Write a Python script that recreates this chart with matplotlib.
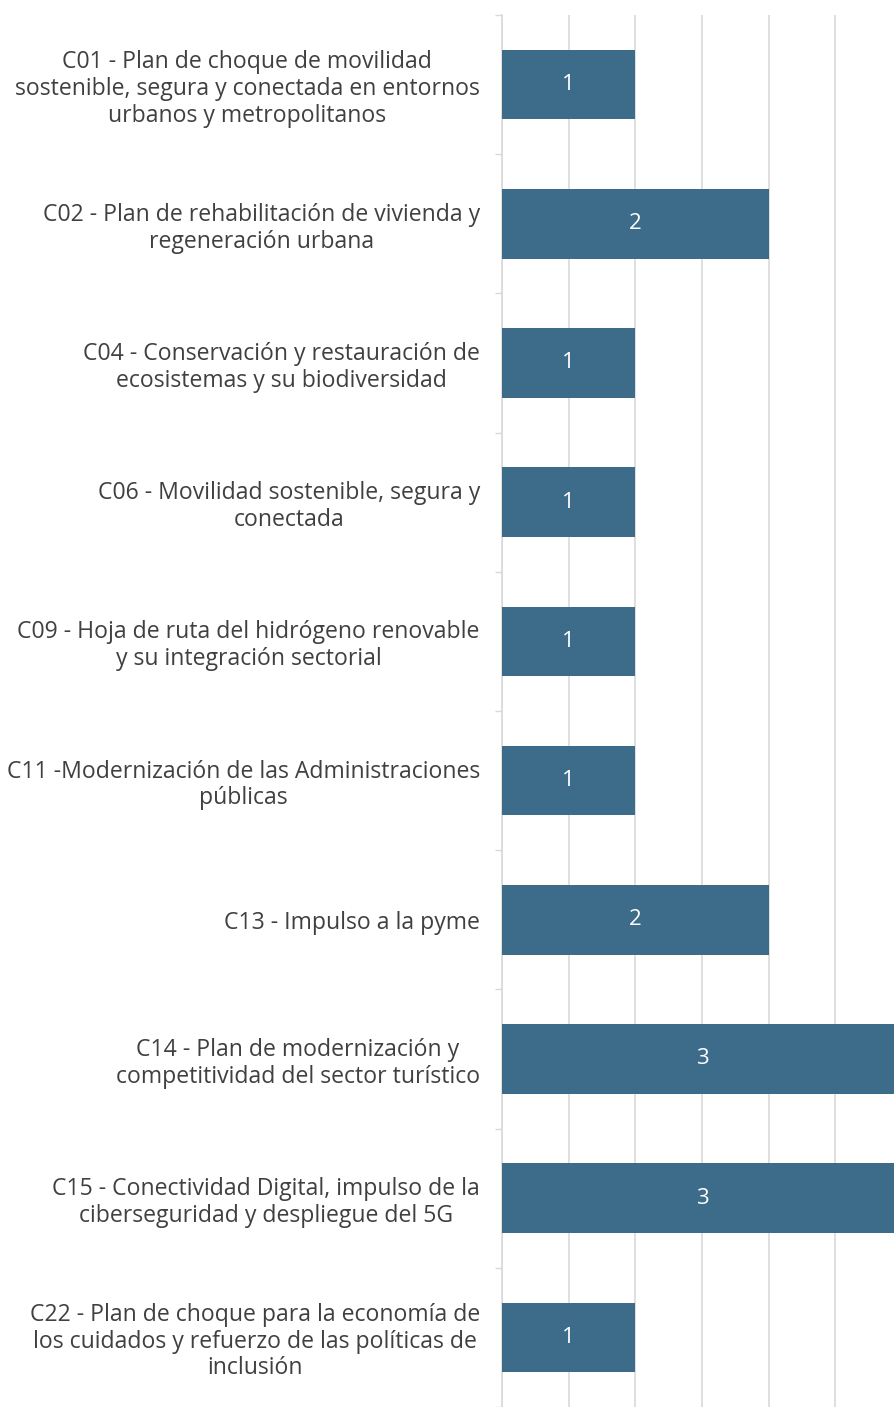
import matplotlib.pyplot as plt
from matplotlib.ticker import MultipleLocator, FixedLocator

plt.rcParams['font.family'] = ['Open Sans', 'DejaVu Sans']

# Data
categories = [
    "C01 - Plan de choque de movilidad\nsostenible, segura y conectada en entornos\nurbanos y metropolitanos",
    "C02 - Plan de rehabilitación de vivienda y\nregeneración urbana",
    "C04 - Conservación y restauración de\necosistemas y su biodiversidad",
    "C06 - Movilidad sostenible, segura y\nconectada",
    "C09 - Hoja de ruta del hidrógeno renovable\ny su integración sectorial",
    "C11 -Modernización de las Administraciones\npúblicas",
    "C13 - Impulso a la pyme",
    "C14 - Plan de modernización y\ncompetitividad del sector turístico",
    "C15 - Conectividad Digital, impulso de la\nciberseguridad y despliegue del 5G",
    "C22 - Plan de choque para la economía de\nlos cuidados y refuerzo de las políticas de\ninclusión",
]
values = [1, 2, 1, 1, 1, 1, 2, 3, 3, 1]

bar_color = "#3d6b8a"
grid_color = "#d9d9d9"
text_color = "#404040"

fig = plt.figure(figsize=(8.94, 14.07), dpi=100)
ax = fig.add_axes([502 / 894, 0, 1 - 502 / 894, 1 - 15 / 1407])

pos = list(range(len(categories)))
bars = ax.barh(pos, values, height=0.5, color=bar_color, zorder=3)
ax.set_ylim(len(categories) - 0.5, -0.5)
ax.set_xlim(0, 2.94)

ax.set_yticks(pos)
ax.set_yticklabels(categories, fontsize=16.6, color=text_color,
                   multialignment='center', linespacing=1.15)
ax.tick_params(axis='y', which='major', length=0, pad=16)
ax.yaxis.set_minor_locator(FixedLocator([p - 0.5 for p in pos] + [len(pos) - 0.5]))
ax.tick_params(axis='y', which='minor', length=5, color=grid_color, width=1)

ax.xaxis.set_major_locator(MultipleLocator(0.5))
ax.tick_params(axis='x', length=0, labelbottom=False)
ax.grid(axis='x', color=grid_color, linewidth=1.2, zorder=0)

for s in ['top', 'right', 'bottom']:
    ax.spines[s].set_visible(False)
ax.spines['left'].set_color(grid_color)
ax.spines['left'].set_linewidth(1.2)

for b, v in zip(bars, values):
    ax.text(b.get_width() / 2, b.get_y() + b.get_height() / 2, str(v),
            ha='center', va='center', color='white', fontsize=16, zorder=4)

fig.savefig("out.png", dpi=100)
